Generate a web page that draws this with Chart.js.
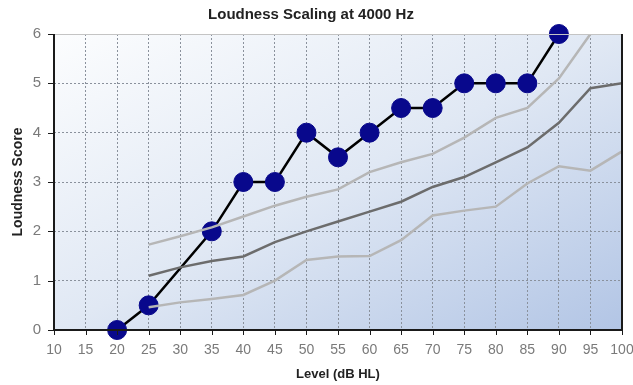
<!DOCTYPE html>
<html>
<head>
<meta charset="utf-8">
<script src="https://cdn.jsdelivr.net/npm/chart.js@4"></script>
<style>
  html, body { margin: 0; padding: 0; background: #fff; }
  #wrap { width: 633px; height: 385px; }
</style>
</head>
<body>
<div id="wrap"><canvas id="chart" width="633" height="385"></canvas></div>
<script>
// Levels (dB HL) on the x axis
const levels = [20, 25, 35, 40, 45, 50, 55, 60, 65, 70, 75, 80, 85, 90];
// Patient loudness scores
const scores = [0, 0.5, 2, 3, 3, 4, 3.5, 4, 4.5, 4.5, 5, 5, 5, 6];

// Normal range lines (upper / median / lower)
const normLevels = [25, 30, 35, 40, 45, 50, 55, 60, 65, 70, 75, 80, 85, 90, 95, 100];
const normUpper  = [1.73, 1.9, 2.08, 2.3, 2.52, 2.7, 2.85, 3.2, 3.4, 3.57, 3.9, 4.3, 4.5, 5.1, 6.0, null];
const normMid    = [1.1, 1.27, 1.4, 1.49, 1.78, 2.0, 2.2, 2.4, 2.6, 2.9, 3.1, 3.4, 3.7, 4.2, 4.9, 5.0];
const normLower  = [0.46, 0.56, 0.63, 0.71, 1.0, 1.42, 1.49, 1.5, 1.82, 2.32, 2.42, 2.5, 2.97, 3.32, 3.23, 3.62];

const FONT = 'Liberation Sans, Arial, sans-serif';

function toPoints(xs, ys) {
    return xs.map((x, i) => ({ x: x, y: ys[i] }));
}

// gradient background, frame and tick marks
const framePlugin = {
    id: 'frame',
    beforeDraw(chart) {
        const { ctx, chartArea: a } = chart;
        const w = a.right - a.left, h = a.bottom - a.top;
        // isolines run corner to corner (bottom-left to top-right)
        const k = 2 * w * h / (w * w + h * h);
        const g = ctx.createLinearGradient(a.left, a.top, a.left + h * k, a.top + w * k);
        g.addColorStop(0, '#fcfdfe');
        g.addColorStop(0.5, '#e0e8f4');
        g.addColorStop(1, '#b2c5e5');
        ctx.save();
        ctx.fillStyle = g;
        ctx.fillRect(a.left, a.top, w, h);
        ctx.restore();
    },
    afterDatasetsDraw(chart) {
        const { ctx, chartArea: a, scales } = chart;
        ctx.save();
        // top edge
        ctx.strokeStyle = '#c4c4c4';
        ctx.lineWidth = 1;
        ctx.beginPath();
        ctx.moveTo(a.left, a.top + 0.5);
        ctx.lineTo(a.right, a.top + 0.5);
        ctx.stroke();
        // left, bottom, right edges
        ctx.strokeStyle = '#1a1a1a';
        ctx.lineWidth = 2;
        ctx.beginPath();
        ctx.moveTo(a.left, a.top);
        ctx.lineTo(a.left, a.bottom);
        ctx.lineTo(a.right, a.bottom);
        ctx.lineTo(a.right, a.top);
        ctx.stroke();
        // tick marks
        ctx.lineWidth = 1;
        ctx.beginPath();
        scales.x.ticks.forEach(t => {
            const px = Math.round(scales.x.getPixelForValue(t.value)) + 0.5;
            ctx.moveTo(px, a.bottom);
            ctx.lineTo(px, a.bottom + 5);
        });
        scales.y.ticks.forEach(t => {
            const py = Math.round(scales.y.getPixelForValue(t.value)) + 0.5;
            ctx.moveTo(a.left - 6, py);
            ctx.lineTo(a.left, py);
        });
        ctx.stroke();
        ctx.restore();
    }
};

const grayLine = (data, color) => ({
    data: data,
    borderColor: color,
    borderWidth: 2.5,
    pointRadius: 0,
    fill: false,
    tension: 0
});

new Chart(document.getElementById('chart'), {
    type: 'line',
    data: {
        datasets: [
            grayLine(toPoints(normLevels, normUpper), '#b6b6b6'),
            grayLine(toPoints(normLevels, normMid), '#6c6c6c'),
            grayLine(toPoints(normLevels, normLower), '#b6b6b6'),
            {
                data: toPoints(levels, scores),
                borderColor: '#000',
                borderWidth: 2.5,
                pointRadius: 9.5,
                pointHoverRadius: 9.5,
                pointBackgroundColor: '#08088c',
                pointBorderColor: '#08088c',
                pointBorderWidth: 1,
                fill: false,
                tension: 0,
                clip: false
            }
        ]
    },
    options: {
        responsive: false,
        animation: false,
        layout: { padding: { top: 0, right: 11, left: 0, bottom: 0 } },
        plugins: {
            legend: { display: false },
            tooltip: { enabled: false },
            title: {
                display: true,
                text: 'Loudness Scaling at 4000 Hz',
                color: '#222',
                font: { family: FONT, size: 15, weight: 'bold' },
                padding: { top: 6, bottom: 10 }
            }
        },
        scales: {
            x: {
                type: 'linear',
                min: 10,
                max: 100,
                ticks: {
                    stepSize: 5,
                    color: '#7a7a7a',
                    font: { family: FONT, size: 14 },
                    padding: 12,
                    maxRotation: 0
                },
                grid: {
                    color: '#8a919c',
                    lineWidth: 1,
                    tickLength: 0
                },
                border: { display: false, dash: [2, 2] },
                title: {
                    display: true,
                    text: 'Level (dB HL)',
                    color: '#222',
                    font: { family: FONT, size: 13, weight: 'bold' },
                    padding: { top: 4, bottom: 3 }
                },
                afterFit(scale) {
                    scale.height = 55;
                    scale.paddingLeft = 0;
                    scale.paddingRight = 0;
                }
            },
            y: {
                min: 0,
                max: 6,
                ticks: {
                    stepSize: 1,
                    color: '#7a7a7a',
                    font: { family: FONT, size: 15 },
                    padding: 13
                },
                grid: {
                    color: '#8a919c',
                    lineWidth: 1,
                    tickLength: 0
                },
                border: { display: false, dash: [2, 2] },
                title: {
                    display: true,
                    text: 'Loudness Score',
                    color: '#222',
                    font: { family: FONT, size: 14, weight: 'bold' },
                    padding: { top: 10, bottom: 0 }
                },
                afterFit(scale) { scale.width = 54; }
            }
        }
    },
    plugins: [framePlugin]
});
</script>
</body>
</html>
